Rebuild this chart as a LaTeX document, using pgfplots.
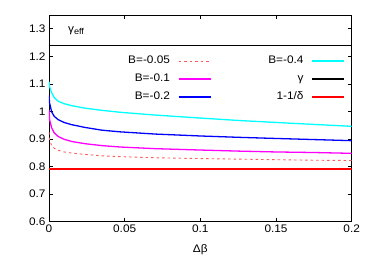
\documentclass[border=0pt]{standalone}
\usepackage{pgfplots}
\pgfplotsset{compat=1.18}
\usetikzlibrary{calc}
\usepackage{fontspec}
\setmainfont{Liberation Sans}[FakeStretch=1.08]
\definecolor{gcyan}{RGB}{0,255,255}
\definecolor{gblue}{RGB}{0,0,255}
\definecolor{gmag}{RGB}{255,0,255}
\definecolor{gred}{RGB}{255,0,0}
\definecolor{gdash}{RGB}{255,90,90}
\pgfplotstableread{
x y
0 1.108
0.0004 1.090
0.0018 1.067
0.0035 1.050
0.0061 1.037
0.01 1.028
0.015 1.021
0.0238 1.012
0.035 1.004
0.047 0.997
0.07 0.987
0.1 0.976
0.126 0.967
0.15 0.960
0.175 0.953
0.2 0.946
}\Bfour
\pgfplotstableread{
x y
0 1.058
0.0004 1.030
0.0018 0.998
0.0035 0.982
0.0061 0.970
0.01 0.960
0.015 0.952
0.0238 0.942
0.035 0.932
0.047 0.926
0.07 0.918
0.1 0.911
0.126 0.906
0.15 0.902
0.175 0.898
0.2 0.894
}\Btwo
\pgfplotstableread{
x y
0 1.005
0.0004 0.970
0.0018 0.940
0.0035 0.922
0.0061 0.909
0.01 0.899
0.015 0.891
0.0238 0.883
0.035 0.876
0.047 0.871
0.07 0.865
0.1 0.860
0.126 0.856
0.15 0.853
0.175 0.851
0.2 0.848
}\Bone
\pgfplotstableread{
x y
0 0.925
0.0004 0.898
0.0018 0.875
0.0035 0.866
0.0061 0.859
0.01 0.853
0.015 0.849
0.0238 0.844
0.035 0.839
0.047 0.836
0.07 0.832
0.1 0.829
0.126 0.827
0.15 0.825
0.175 0.823
0.2 0.822
}\Bhalf
\begin{document}
\begin{tikzpicture}
\begin{axis}[
  scale only axis,
  width=302.7bp, height=206.7bp,
  xmin=0, xmax=0.2, ymin=0.6, ymax=1.35,
  xtick={0,0.05,0.1,0.15,0.2},
  xticklabels={0,0.05,0.1,0.15,0.2},
  ytick={0.6,0.7,0.8,0.9,1,1.1,1.2,1.3},
  yticklabels={0.6,0.7,0.8,0.9,1,1.1,1.2,1.3},
  minor tick num=0,
  tick align=inside,
  major tick length=4bp,
  tick style={black, line width=0.6pt},
  axis line style={line width=0.8pt},
  every tick label/.append style={font=\fontsize{11}{13}\selectfont},
  xlabel={Δβ},
  xlabel style={at={(axis description cs:0.5,-0.135)},anchor=center,font=\fontsize{11}{13}\selectfont},
  legend columns=2,
  legend plot pos=right,
  legend cell align=right,
  legend image code/.code={\draw[#1] (0bp,0bp) -- (32bp,0bp);},
  legend style={at={(axis cs:0.19557,1.203)},anchor=north east,draw=none,fill=none,
    inner sep=0pt, font=\fontsize{11}{13}\selectfont, row sep=7.5bp,
    nodes={inner sep=0pt, text height=8bp, text depth=2.5bp},
    /tikz/every odd column/.append style={column sep=8bp},
    /tikz/every even column/.append style={column sep=57bp}},
]
\addplot[gdash, line width=0.9pt, dash pattern=on 2.5bp off 3bp, forget plot] table[x=x,y=y] {\Bhalf};
\addplot[gmag, line width=1.3pt, forget plot] table[x=x,y=y] {\Bone};
\addplot[gblue, line width=1.3pt, forget plot] table[x=x,y=y] {\Btwo};
\addplot[gcyan, line width=1.3pt, forget plot] table[x=x,y=y] {\Bfour};
\addplot[black, line width=1.3pt, forget plot] coordinates {(0,1.2396) (0.2,1.2396)};
\addplot[gred, line width=1.3pt, forget plot] coordinates {(0,0.7912) (0.2,0.7912)};
\addlegendimage{draw=gdash, line width=0.9pt, dash pattern=on 2.5bp off 3bp}
\addlegendentry{B=-0.05}
\addlegendimage{gcyan, line width=1.3pt}
\addlegendentry{B=-0.4}
\addlegendimage{gmag, line width=1.3pt}
\addlegendentry{B=-0.1}
\addlegendimage{black, line width=1.3pt}
\addlegendentry{γ}
\addlegendimage{gblue, line width=1.3pt}
\addlegendentry{B=-0.2}
\addlegendimage{gred, line width=1.3pt}
\addlegendentry{1-1/δ}
\node[anchor=base west, font=\fontsize{11}{13}\selectfont, inner sep=0pt] at (axis cs:0.0125,1.285) {γ\raisebox{-0.35ex}{\fontsize{8.5}{10}\selectfont eff}};
\end{axis}
\pgfresetboundingbox
\path[use as bounding box] ($(current axis.south west)+(-49bp,-40.3bp)$) rectangle ($(current axis.north east)+(22.3bp,15bp)$);
\end{tikzpicture}
\end{document}
